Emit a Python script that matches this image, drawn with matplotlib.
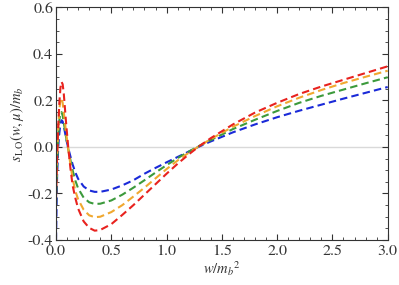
import numpy as np
import matplotlib
matplotlib.use("Agg")
import matplotlib.pyplot as plt
from matplotlib.ticker import MultipleLocator

plt.rcParams['font.family'] = ['STIXGeneral', 'DejaVu Serif']
plt.rcParams['mathtext.fontset'] = 'stix'

# data
w = [0.0, 0.01, 0.02, 0.03, 0.04, 0.05, 0.06, 0.07, 0.08, 0.09, 0.1, 0.11, 0.12, 0.13,
     0.15, 0.175, 0.2, 0.25, 0.3, 0.35, 0.4, 0.5, 0.6, 0.7, 0.8, 0.9, 1.0, 1.1, 1.2,
     1.3, 1.4, 1.6, 1.8, 2.0, 2.2, 2.4, 2.6, 2.8, 3.0]

s_red = [-0.22, -0.04, 0.09, 0.19, 0.255, 0.28, 0.27, 0.23, 0.17, 0.11, 0.055, 0.0, -0.045,
         -0.09, -0.165, -0.22, -0.265, -0.32, -0.348, -0.36, -0.357, -0.332, -0.292, -0.25,
         -0.205, -0.16, -0.115, -0.072, -0.032, 0.005, 0.038, 0.097, 0.148, 0.19, 0.228,
         0.26, 0.289, 0.318, 0.347]
s_orange = [-0.18, -0.03, 0.08, 0.16, 0.205, 0.21, 0.19, 0.15, 0.11, 0.065, 0.03, -0.005,
            -0.04, -0.075, -0.135, -0.19, -0.225, -0.27, -0.294, -0.302, -0.30, -0.28, -0.25,
            -0.213, -0.175, -0.135, -0.095, -0.058, -0.025, 0.005, 0.034, 0.087, 0.133,
            0.175, 0.212, 0.245, 0.275, 0.302, 0.328]
s_green = [-0.25, -0.06, 0.05, 0.115, 0.145, 0.15, 0.135, 0.105, 0.075, 0.045, 0.018, -0.008,
           -0.032, -0.055, -0.1, -0.145, -0.178, -0.218, -0.238, -0.245, -0.244, -0.23, -0.205,
           -0.175, -0.143, -0.11, -0.078, -0.048, -0.02, 0.006, 0.03, 0.077, 0.117, 0.155,
           0.19, 0.22, 0.247, 0.274, 0.30]
s_blue = [-0.40, -0.12, 0.0, 0.06, 0.1, 0.115, 0.11, 0.09, 0.065, 0.04, 0.018, -0.003,
          -0.022, -0.04, -0.075, -0.11, -0.137, -0.17, -0.187, -0.193, -0.193, -0.183,
          -0.165, -0.143, -0.115, -0.09, -0.066, -0.043, -0.02, 0.003, 0.024, 0.063, 0.097,
          0.128, 0.156, 0.182, 0.208, 0.233, 0.258]

series = [(s_blue, '#1a2ad8'), (s_green, '#3c9a3c'), (s_orange, '#f0a830'), (s_red, '#e8221e')]

fig = plt.figure(figsize=(3.99, 2.85), dpi=100)
ax = fig.add_axes([0.1404, 0.158, 0.8313, 0.8157])

ax.axhline(0, color='#d9d9d9', lw=1.0, zorder=0)
for vals, col in series:
    ax.plot(w, vals, color=col, lw=1.5, ls=(0, (3.6, 2.0)))

ax.set_xlim(0, 3.0)
ax.set_ylim(-0.4, 0.6)
ax.xaxis.set_major_locator(MultipleLocator(0.5))
ax.xaxis.set_minor_locator(MultipleLocator(0.1))
ax.yaxis.set_major_locator(MultipleLocator(0.2))
ax.yaxis.set_minor_locator(MultipleLocator(0.05))
ax.xaxis.set_major_formatter(matplotlib.ticker.FormatStrFormatter('%.1f'))
ax.yaxis.set_major_formatter(matplotlib.ticker.FormatStrFormatter('%.1f'))

ax.tick_params(which='both', direction='in', top=True, right=True, color='0.2',
               labelsize=11.5, labelcolor='0.2')
ax.tick_params(axis='x', pad=3.5)
ax.tick_params(axis='y', pad=2)
ax.tick_params(which='major', length=4, width=0.8)
ax.tick_params(which='minor', length=2, width=0.6)
for sp in ax.spines.values():
    sp.set_color('0.2')
    sp.set_linewidth(0.8)

ax.set_xlabel(r'$w/m_b{}^2$', fontsize=10.5, color='0.2', labelpad=1)
ax.set_ylabel(r'$s_{\,\mathrm{LO}}(w,\mu)/m_b$', fontsize=10.5, color='0.2', labelpad=1)

fig.savefig('out.png', dpi=100)
